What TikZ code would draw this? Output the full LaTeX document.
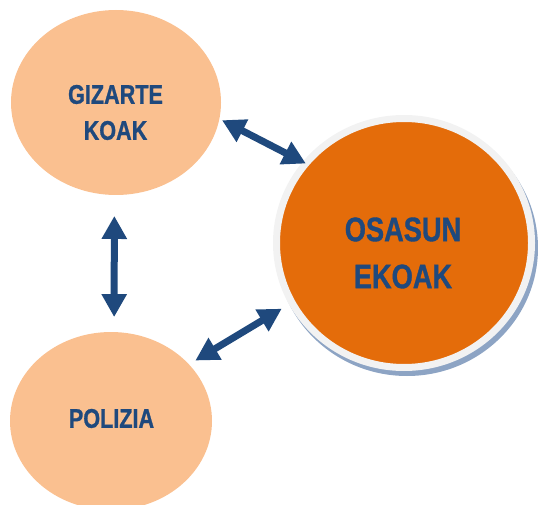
\documentclass[tikz,border=0pt]{standalone}
\usepackage{fontspec}
\newfontfamily\labelfont[FakeStretch=0.8, BoldFeatures={FakeBold=1}]{Liberation Sans}
\definecolor{PeachColor}{RGB}{250,192,144}
\definecolor{OrangeColor}{RGB}{228,108,10}
\definecolor{NavyColor}{RGB}{31,73,125}
\definecolor{RingColor}{RGB}{242,242,242}
\definecolor{ShadowColor}{RGB}{141,164,196}
\usetikzlibrary{arrows.meta, shapes.geometric, shadows}
\begin{document}
\begin{tikzpicture}[x=1pt, y=1pt,
    side/.style={ellipse, fill=PeachColor, inner sep=0pt, outer sep=0pt},
    hub/.style={ellipse, fill=OrangeColor, draw=RingColor, line width=7pt, inner sep=0pt, outer sep=0pt,
      drop shadow={shadow xshift=3pt, shadow yshift=-5pt, opacity=1, fill=ShadowColor, draw=ShadowColor, line width=7pt}},
    txt/.style={text=NavyColor, align=center, font=\labelfont\bfseries\fontsize{27}{36}\selectfont},
    link/.style={{Triangle[width=24pt, length=23pt]}-{Triangle[width=24pt, length=23pt]}, line width=7pt, NavyColor}]
  \useasboundingbox (0,0) rectangle (538,504);
  \node[side, minimum width=210pt, minimum height=185pt] (gizarte) at (116,401.5) {};
  \node[side, minimum width=202pt, minimum height=178pt] (polizia) at (111,83) {};
  \node[hub, minimum width=255pt, minimum height=249pt] (osasun) at (404,261) {};
  \node[txt] (gizartetxt) at (115.5,391.5) {GIZARTE\\KOAK};
  \node[txt] (poliziatxt) at (111.5,85.5) {POLIZIA};
  \node[txt, font=\labelfont\bfseries\fontsize{34}{47}\selectfont] (osasuntxt) at (403,251) {OSASUN\\EKOAK};
  \draw[link, shorten <=3pt] (gizarte.-9.4) -- (osasun.141.8);
  \draw[link, shorten <=21pt, shorten >=15pt] (gizarte.-91.5) -- (polizia.88.9);
  \draw[link, shorten <=7.5pt, shorten >=12pt] (polizia.36) -- (osasun.-152.1);
\end{tikzpicture}
\end{document}
